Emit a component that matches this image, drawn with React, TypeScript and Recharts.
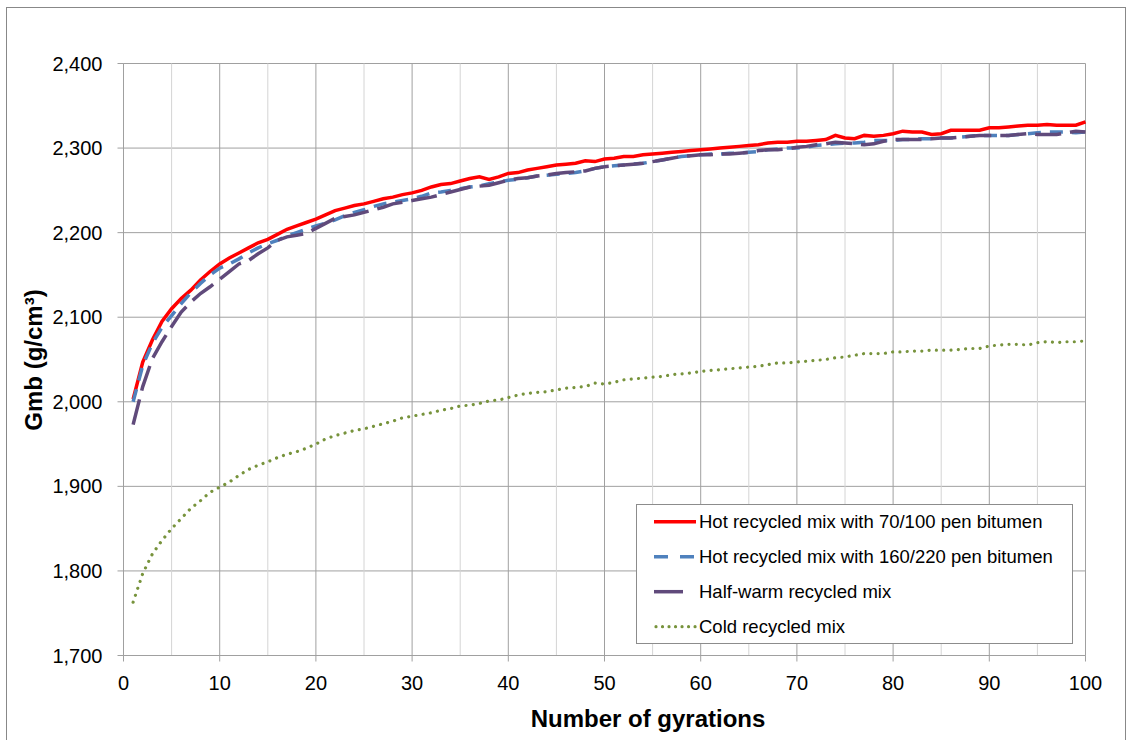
import React from "react";
import {
  LineChart,
  Line,
  XAxis,
  YAxis,
  CartesianGrid,
  ReferenceLine,
} from "recharts";

// gyration number 1..100
const gyrations = Array.from({ length: 100 }, (_, i) => i + 1);

const hot70 = [
  2003, 2047, 2073, 2095, 2110, 2122, 2132, 2144, 2154, 2163,
  2170, 2176, 2182, 2188, 2192, 2198, 2204, 2208, 2212, 2216,
  2221, 2226, 2229, 2232, 2234, 2237, 2240, 2242, 2245, 2247,
  2250, 2254, 2257, 2258, 2261, 2264, 2266, 2263, 2266, 2270,
  2271, 2274, 2276, 2278, 2280, 2281, 2282, 2285, 2284, 2287,
  2288, 2290, 2290, 2292, 2293, 2294, 2295, 2296, 2297, 2298,
  2299, 2300, 2301, 2302, 2303, 2304, 2306, 2307, 2307, 2308,
  2308, 2309, 2310, 2315, 2312, 2311, 2315, 2314, 2315, 2317,
  2320, 2319, 2319, 2316, 2317, 2321, 2321, 2321, 2321, 2324,
  2324, 2325, 2326, 2327, 2327, 2328, 2327, 2327, 2327, 2331,
];

const hot160 = [
  2000, 2043, 2069, 2088, 2102, 2116, 2129, 2140, 2150, 2158,
  2163, 2169, 2176, 2182, 2187, 2191, 2196, 2200, 2204, 2208,
  2211, 2215, 2220, 2224, 2227, 2231, 2234, 2236, 2238, 2240,
  2243, 2247, 2248, 2250, 2252, 2254, 2255, 2258, 2260, 2262,
  2263, 2265, 2267, 2268, 2269, 2270, 2271, 2273, 2276, 2278,
  2279, 2280, 2281, 2282, 2284, 2286, 2288, 2290, 2291, 2292,
  2293, 2293, 2294, 2294, 2295, 2296, 2298, 2299, 2300, 2300,
  2301, 2303, 2304, 2305, 2306, 2306, 2307, 2309, 2309, 2309,
  2310, 2310, 2311, 2311, 2312, 2312, 2313, 2314, 2315, 2315,
  2315, 2315, 2316, 2317, 2318, 2319, 2319, 2319, 2318, 2319,
];

const halfWarm = [
  1973, 2018, 2051, 2071, 2089, 2106, 2118, 2128, 2136, 2145,
  2154, 2163, 2167, 2175, 2182, 2191, 2195, 2197, 2199, 2205,
  2211, 2217, 2219, 2221, 2224, 2227, 2230, 2234, 2236, 2238,
  2240, 2242, 2245, 2248, 2251, 2254, 2255, 2256, 2259, 2262,
  2264, 2265, 2267, 2268, 2270, 2271, 2272, 2273, 2276, 2278,
  2279, 2280, 2281, 2282, 2284, 2286, 2288, 2290, 2291, 2292,
  2292, 2293, 2293, 2294, 2295, 2297, 2298, 2298, 2299, 2301,
  2302, 2304, 2305, 2307, 2306, 2305, 2304, 2305, 2308, 2310,
  2310, 2310, 2310, 2311, 2312, 2312, 2313, 2314, 2315, 2315,
  2315, 2315, 2316, 2317, 2316, 2316, 2316, 2318, 2320, 2319,
];

const cold = [
  1763, 1797, 1820, 1836, 1850, 1862, 1874, 1883, 1893, 1899,
  1905, 1913, 1920, 1925, 1929, 1934, 1938, 1941, 1945, 1950,
  1956, 1960, 1963, 1966, 1968, 1971, 1974, 1977, 1981, 1983,
  1985, 1987, 1990, 1992, 1995, 1996, 1998, 2001, 2002, 2005,
  2008, 2010, 2011, 2012, 2014, 2016, 2017, 2018, 2022, 2021,
  2023, 2026, 2027, 2028, 2029, 2030, 2032, 2033, 2034, 2036,
  2037, 2038, 2039, 2040, 2041, 2042, 2044, 2046, 2046, 2047,
  2048, 2049, 2050, 2052, 2053, 2055, 2057, 2057, 2057, 2059,
  2059, 2060, 2060, 2061, 2061, 2061, 2062, 2063, 2063, 2066,
  2067, 2068, 2068, 2067, 2070, 2071, 2070, 2071, 2071, 2072,
];

const xTicks = [0, 10, 20, 30, 40, 50, 60, 70, 80, 90, 100];
const xMinorTicks = [5, 15, 25, 35, 45, 55, 65, 75, 85, 95];
const yTicks = [1700, 1800, 1900, 2000, 2100, 2200, 2300, 2400];

const series = [
  { key: "hot70", name: "Hot recycled mix with 70/100 pen bitumen", color: "#ff0000", dash: undefined, width: 3.5 },
  { key: "hot160", name: "Hot recycled mix with 160/220 pen bitumen", color: "#4f81bd", dash: "13 9", width: 3.5 },
  { key: "halfWarm", name: "Half-warm recycled mix", color: "#604a7b", dash: "26 9", width: 3.5 },
  { key: "cold", name: "Cold recycled mix", color: "#77933c", dash: "0.01 7.3", width: 3.2 },
];

const data = gyrations.map((g, i) => ({
  g,
  hot70: hot70[i],
  hot160: hot160[i],
  halfWarm: halfWarm[i],
  cold: cold[i],
}));

const FONT = "'Liberation Sans', Arial, sans-serif";

function LegendBox() {
  return (
    <svg width={437} height={140} style={{ display: "block" }}>
      <rect x={0.5} y={0.5} width={436} height={139} fill="#fff" stroke="#8c8c8c" />
      {series.map((s, i) => {
        const cy = 17.7 + i * 35;
        const isDots = s.key === "cold";
        return (
          <g key={s.key}>
            <line
              x1={isDots ? 20 : 18}
              x2={s.key === "halfWarm" ? 47 : 60}
              y1={cy}
              y2={cy}
              stroke={s.color}
              strokeWidth={s.width}
              strokeDasharray={s.key === "hot160" ? "14 12" : isDots ? "0.01 6.5" : undefined}
              strokeLinecap={isDots ? "round" : "butt"}
            />
            <text x={63} y={cy + 6.3} fontSize={18.5} fontFamily={FONT} fill="#000">
              {s.name}
            </text>
          </g>
        );
      })}
    </svg>
  );
}

export default function App() {
  return (
    <div style={{ position: "absolute", left: 0, top: 0, width: 1132, height: 740, background: "#fff" }}>
      <div
        style={{
          position: "absolute",
          left: 6,
          top: 7,
          width: 1120,
          height: 740,
          border: "1px solid #888",
          boxSizing: "border-box",
        }}
      />
      <LineChart
        width={1132}
        height={740}
        data={data}
        margin={{ top: 63.5, right: 46.5, left: 43.5, bottom: 54.5 }}
        style={{ position: "absolute", left: 0, top: 0 }}
      >
        <CartesianGrid stroke="#a0a0a0" />
        {xMinorTicks.map((x) => (
          <ReferenceLine key={x} x={x} stroke="#d4d4d4" strokeWidth={1} />
        ))}
        <XAxis
          dataKey="g"
          type="number"
          domain={[0, 100]}
          ticks={xTicks}
          tickSize={6}
          tickMargin={14}
          axisLine={{ stroke: "#a0a0a0" }}
          tickLine={{ stroke: "#a0a0a0" }}
          tick={{ fill: "#000", fontSize: 20, fontFamily: FONT }}
          height={30}
          label={{
            content: () => (
              <text x={648} y={727} textAnchor="middle" fontSize={24} fontWeight="bold" fontFamily={FONT} fill="#000">
                Number of gyrations
              </text>
            ),
          }}
        />
        <YAxis
          type="number"
          domain={[1700, 2400]}
          ticks={yTicks}
          width={80}
          tickSize={6}
          tickMargin={15}
          axisLine={{ stroke: "#a0a0a0" }}
          tickLine={{ stroke: "#a0a0a0" }}
          tick={{ fill: "#000", fontSize: 20, fontFamily: FONT }}
          tickFormatter={(v: number) => v.toLocaleString("en-US")}
          label={{
            content: () => (
              <text
                x={42}
                y={360}
                transform="rotate(-90 42 360)"
                textAnchor="middle"
                fontSize={24}
                fontWeight="bold"
                fontFamily={FONT}
                fill="#000"
              >
                Gmb (g/cm³)
              </text>
            ),
          }}
        />
        {series.map((s) => (
          <Line
            key={s.key}
            type="linear"
            dataKey={s.key}
            name={s.name}
            stroke={s.color}
            strokeWidth={s.width}
            strokeDasharray={s.dash}
            strokeLinecap={s.key === "cold" ? "round" : "butt"}
            dot={false}
            activeDot={false}
            isAnimationActive={false}
          />
        ))}
      </LineChart>
      <div style={{ position: "absolute", left: 636, top: 504 }}>
        <LegendBox />
      </div>
    </div>
  );
}
